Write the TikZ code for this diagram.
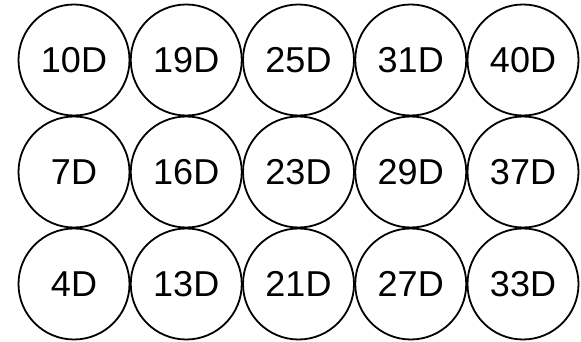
\documentclass[tikz,border=0pt]{standalone}
\usepackage{fontspec}
\setmainfont{Liberation Sans}
\begin{document}
\begin{tikzpicture}[x=1pt,y=1pt,
  cell/.style={circle,draw,line width=1.8pt,minimum size=111pt,inner sep=0pt,font=\fontsize{36}{40}\selectfont}]
\useasboundingbox (0,0) rectangle (581,342);
\foreach \lab [count=\i from 0] in {10D,19D,25D,31D,40D}
  \node[cell] (r1c\i) at (74+112.25*\i,342-60) {\lab};
\foreach \lab [count=\i from 0] in {7D,16D,23D,29D,37D}
  \node[cell] (r2c\i) at (74+112.25*\i,342-172) {\lab};
\foreach \lab [count=\i from 0] in {4D,13D,21D,27D,33D}
  \node[cell] (r3c\i) at (74+112.25*\i,342-284) {\lab};
\end{tikzpicture}
\end{document}
